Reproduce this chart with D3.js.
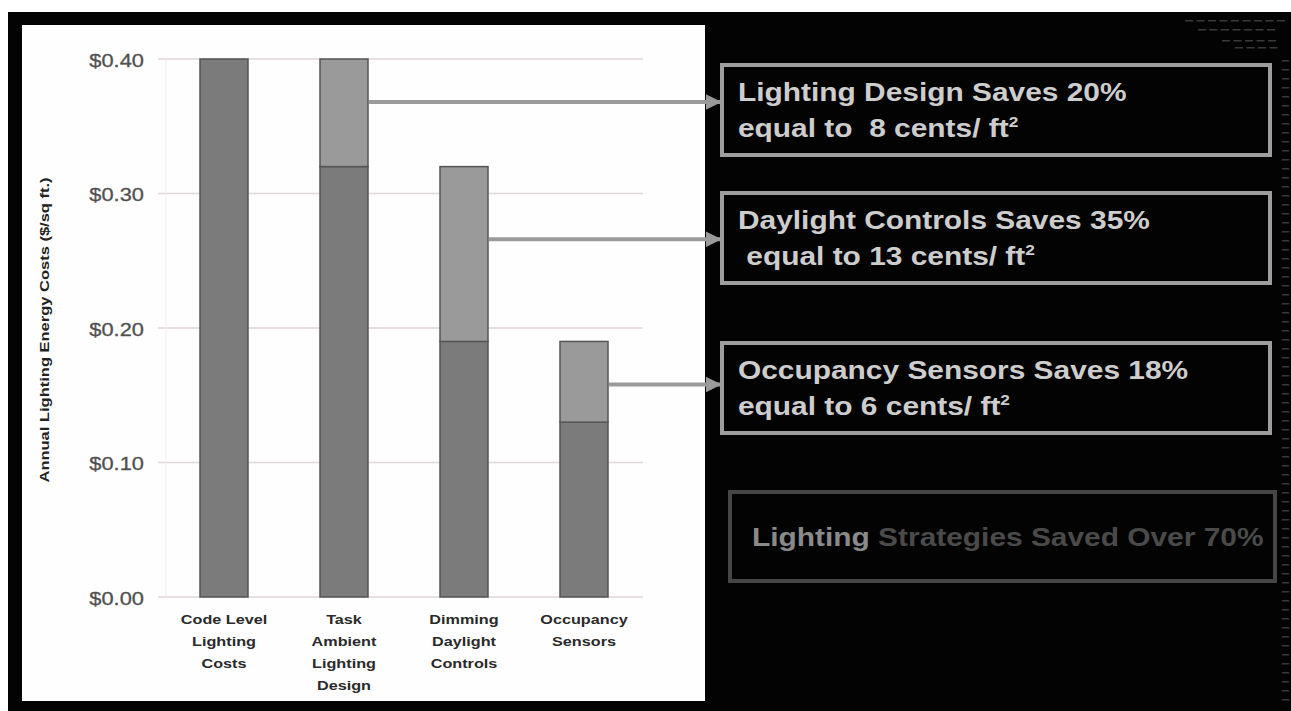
<!DOCTYPE html>
<html><head><meta charset="utf-8">
<script src="https://cdn.jsdelivr.net/npm/d3@7"></script>
<style>
html,body{margin:0;padding:0;background:#fff;}
svg{display:block;}
</style></head>
<body>
<svg id="chart" width="1291" height="711"></svg>
<script>
// ---- data ----
const categories = [["Code Level","Lighting","Costs"],["Task","Ambient","Lighting","Design"],["Dimming","Daylight","Controls"],["Occupancy","Sensors"]];
const baseCost = [0.40, 0.32, 0.19, 0.13];     // remaining cost (dark)
const savedCost = [0.00, 0.08, 0.13, 0.06];    // saved portion (light, on top)
const yTicks = [0, 0.1, 0.2, 0.3, 0.4];
const arrowLevel = [null, 0.368, 0.266, 0.158];
const boxLine1 = ["Lighting Design Saves 20%", "Daylight Controls Saves 35%", "Occupancy Sensors Saves 18%"];
const boxLine2 = ["equal to  8 cents/ ft", " equal to 13 cents/ ft", "equal to 6 cents/ ft"];
const summaryA = "Lighting";
const summaryB = " Strategies Saved Over 70%";
const yTitle = "Annual Lighting Energy Costs ($/sq ft.)";

const FONT = "Liberation Sans, Arial, sans-serif";
const SX = 1.15; // horizontal stretch of the original slide
const svg = d3.select("#chart");

function stext(parent, x, y, sx, anchor){
  return parent.append("g").attr("transform",`translate(${x},${y}) scale(${sx},1)`)
    .append("text").attr("x",0).attr("y",0).attr("text-anchor",anchor||"start")
    .attr("font-family",FONT).style("white-space","pre");
}

// background: black frame
svg.append("rect").attr("x",8).attr("y",12).attr("width",1283).attr("height",699).attr("fill","#030303");
// decorative dashes on right edge
const deco = svg.append("g").attr("fill","#3a3a3a");
[[1185,20,9],[1198,29,7],[1222,40,5],[1235,47,4]].forEach(([x0,y0,n])=>{
  d3.range(n).forEach(k=>deco.append("rect").attr("x",x0+k*11.5).attr("y",y0).attr("width",8).attr("height",1.5));
});
d3.range(60,700,9).forEach(yy=>deco.append("rect").attr("x",1282).attr("y",yy).attr("width",7).attr("height",1.5));
// white chart panel
svg.append("rect").attr("x",22).attr("y",25).attr("width",683).attr("height",676).attr("fill","#fefefe");

const x = d3.scaleBand().domain(d3.range(categories.length)).range([164,644]).paddingInner(0.6).paddingOuter(0.3);
const y = d3.scaleLinear().domain([0,0.4]).range([597,59]);

// gridlines
svg.append("g").selectAll("line").data(yTicks).join("line")
  .attr("x1",158).attr("x2",643).attr("y1",d=>y(d)).attr("y2",d=>y(d))
  .attr("stroke","#e0d6d6").attr("stroke-width",1.3);
svg.append("line").attr("x1",166).attr("x2",166).attr("y1",y(0.4)).attr("y2",y(0)).attr("stroke","#efefef");

// y tick labels (via axis for positions)
const yAxis = d3.axisLeft(y).tickValues(yTicks).tickFormat(d=>"$"+d.toFixed(2)).tickSize(0);
const ga = svg.append("g").attr("class","yaxis").attr("transform","translate(0,0)").call(yAxis);
ga.select(".domain").remove();
ga.selectAll(".tick").each(function(d){
  const tk = d3.select(this);
  tk.select("text").remove();
  const t = tk.append("g").attr("transform",`translate(144,7) scale(${SX},1)`).append("text")
    .attr("text-anchor","end").attr("font-family",FONT).attr("font-size",19).attr("fill","#505050")
    .attr("stroke","#505050").attr("stroke-width",0.3).text("$"+d.toFixed(2));
});

// y title
svg.append("g").attr("transform","translate(49,330) rotate(-90)")
  .append("text").attr("text-anchor","middle").attr("font-family",FONT).attr("font-weight","bold")
  .attr("font-size",12.5).attr("fill","#222").attr("textLength",305).attr("lengthAdjust","spacingAndGlyphs")
  .text(yTitle);

// bars
const gb = svg.append("g");
gb.selectAll("rect.base").data(baseCost).join("rect").attr("class","base")
  .attr("x",(d,i)=>x(i)).attr("width",x.bandwidth()).attr("y",d=>y(d)).attr("height",d=>y(0)-y(d))
  .attr("fill","#7b7b7b").attr("stroke","#555").attr("stroke-width",1.5);
gb.selectAll("rect.saved").data(savedCost.map((s,i)=>({s,i,b:baseCost[i]})).filter(d=>d.s>0)).join("rect").attr("class","saved")
  .attr("x",d=>x(d.i)).attr("width",x.bandwidth())
  .attr("y",d=>y(d.b+d.s)).attr("height",d=>y(d.b)-y(d.b+d.s))
  .attr("fill","#9a9a9a").attr("stroke","#555").attr("stroke-width",1.5);

// x labels
categories.forEach((lines,i)=>{
  lines.forEach((l,j)=>{
    stext(svg, x(i)+x.bandwidth()/2, 624+j*22, 1.2, "middle")
      .attr("font-weight","bold").attr("font-size",13.5).attr("fill","#2a2a2a").text(l);
  });
});

// annotation boxes
const boxX = 722, boxW = 548, boxTops = [65,193,343], boxH = 90;
const defs = svg.append("defs");
defs.append("marker").attr("id","ah").attr("viewBox","0 0 10 10").attr("refX",9).attr("refY",5)
  .attr("markerWidth",4).attr("markerHeight",4).attr("orient","auto")
  .append("path").attr("d","M0,0 L10,5 L0,10 z").attr("fill","#9a9a9a");

arrowLevel.forEach((lv,i)=>{
  if(lv===null) return;
  svg.append("line").attr("x1",x(i)+x.bandwidth()+1).attr("x2",boxX-2).attr("y1",y(lv)).attr("y2",y(lv))
    .attr("stroke","#9a9a9a").attr("stroke-width",4).attr("marker-end","url(#ah)");
});

boxLine1.forEach((t,k)=>{
  const top = boxTops[k];
  svg.append("rect").attr("x",boxX).attr("y",top).attr("width",boxW).attr("height",boxH)
    .attr("fill","#030303").attr("stroke","#9d9d9d").attr("stroke-width",4);
  stext(svg, 738, top+36, SX).attr("font-weight","bold").attr("font-size",26).attr("fill","#cdcdcd").text(t);
  const t2 = stext(svg, 738, top+72, SX).attr("font-weight","bold").attr("font-size",26).attr("fill","#cdcdcd");
  t2.append("tspan").text(boxLine2[k]);
  t2.append("tspan").attr("dy",-10).attr("font-size",15).text("2");
});

// summary box
svg.append("rect").attr("x",730).attr("y",492).attr("width",545).attr("height",89)
  .attr("fill","#030303").attr("stroke","#464646").attr("stroke-width",4);
const st = stext(svg, 752, 546, SX).attr("font-weight","bold").attr("font-size",26);
st.append("tspan").attr("fill","#8a8a8a").text(summaryA);
st.append("tspan").attr("fill","#4a4a4a").text(summaryB);
</script>
</body></html>
